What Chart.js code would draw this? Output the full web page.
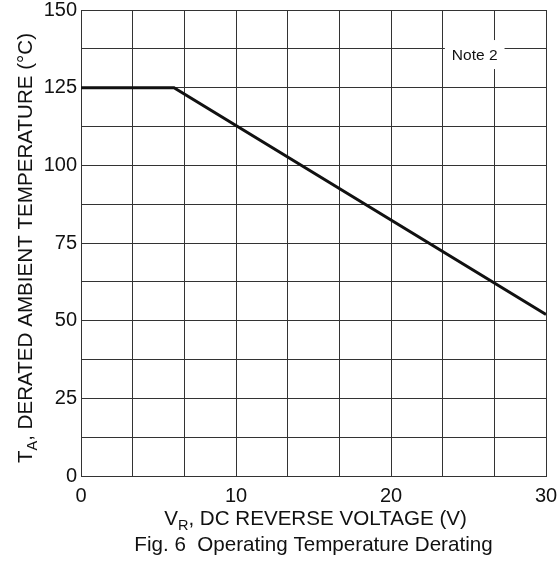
<!DOCTYPE html>
<html>
<head>
<meta charset="utf-8">
<script src="https://cdn.jsdelivr.net/npm/chart.js@4"></script>
<style>
  html, body { margin: 0; padding: 0; background: #fff; }
  #wrap { width: 558px; height: 561px; }
</style>
</head>
<body>
<div id="wrap"><canvas id="chart" width="558" height="561"></canvas></div>
<script>
// derating curve: voltage (V) vs ambient temperature (°C)
const voltage = [0, 6, 30];
const temperature = [125, 125, 52];

// tick labels and grid positions
const xTickLabels = [0, 10, 20, 30];
const yTickLabels = [0, 25, 50, 75, 100, 125, 150];
const xGrid = [0, 10 / 3, 20 / 3, 10, 40 / 3, 50 / 3, 20, 70 / 3, 80 / 3, 30];
const yGrid = [0, 12.5, 25, 37.5, 50, 62.5, 75, 87.5, 100, 112.5, 125, 137.5, 150];

const note = { text: 'Note 2', x: 25.4, y: 135.5 };

const FONT = '"Liberation Sans", Arial, sans-serif';

const isLabel = (v, list) => list.some(t => Math.abs(t - v) < 1e-6);

// draws the axis titles, caption and the note box
const textPlugin = {
    id: 'texts',
    afterDraw(c) {
        const ctx = c.ctx;
        const area = c.chartArea;
        const xs = c.scales.x, ys = c.scales.y;
        ctx.save();

        // note box
        const nx = xs.getPixelForValue(note.x);
        const ny = ys.getPixelForValue(note.y);
        ctx.font = '15.5px ' + FONT;
        const nw = ctx.measureText(note.text).width;
        ctx.fillStyle = '#fff';
        ctx.fillRect(nx - nw / 2 - 7, ny - 15, nw + 14, 29);
        ctx.fillStyle = '#111';
        ctx.textAlign = 'center';
        ctx.textBaseline = 'middle';
        ctx.fillText(note.text, nx, ny + 1);

        // titles with subscript
        const cx = (area.left + area.right) / 2;
        const drawSub = (parts, x, y, big, small) => {
            ctx.textAlign = 'left';
            ctx.textBaseline = 'alphabetic';
            let w = 0;
            parts.forEach(p => {
                ctx.font = (p.sub ? small : big) + 'px ' + FONT;
                w += ctx.measureText(p.t).width;
            });
            let px = x - w / 2;
            parts.forEach(p => {
                ctx.font = (p.sub ? small : big) + 'px ' + FONT;
                ctx.fillText(p.t, px, y + (p.sub ? 5 : 0));
                px += ctx.measureText(p.t).width;
            });
        };
        drawSub([{ t: 'V' }, { t: 'R', sub: true }, { t: ', DC REVERSE VOLTAGE (V)' }], cx + 2, 525, 20.6, 14.5);

        ctx.font = '20.6px ' + FONT;
        ctx.textAlign = 'center';
        ctx.textBaseline = 'alphabetic';
        ctx.fillText('Fig. 6  Operating Temperature Derating', cx, 551);

        // y title rotated
        ctx.translate(32, 248);
        ctx.rotate(-Math.PI / 2);
        drawSub([{ t: 'T' }, { t: 'A', sub: true }, { t: ', DERATED AMBIENT TEMPERATURE (°C)' }], 0, 0, 20.6, 14.5);
        ctx.restore();
    }
};

new Chart(document.getElementById('chart'), {
    type: 'scatter',
    data: {
        datasets: [{
            data: voltage.map((v, i) => ({ x: v, y: temperature[i] })),
            showLine: true,
            borderColor: '#111',
            borderWidth: 3,
            pointRadius: 0,
            tension: 0
        }]
    },
    options: {
        responsive: false,
        animation: false,
        layout: { autoPadding: false, padding: { left: 0, top: 10, right: 12, bottom: 0 } },
        plugins: { legend: { display: false }, tooltip: { enabled: false } },
        scales: {
            x: {
                type: 'linear',
                min: 0,
                max: 30,
                afterBuildTicks: s => { s.ticks = xGrid.map(v => ({ value: v })); },
                afterFit: s => { s.height = 85; s.paddingLeft = 0; s.paddingRight = 0; },
                grid: { color: '#333', lineWidth: 1, drawTicks: false },
                border: { color: '#333', width: 1 },
                ticks: {
                    autoSkip: false,
                    maxRotation: 0,
                    padding: 8,
                    color: '#111',
                    font: { family: FONT, size: 20 },
                    callback: v => isLabel(v, xTickLabels) ? String(Math.round(v)) : ''
                }
            },
            y: {
                type: 'linear',
                min: 0,
                max: 150,
                afterBuildTicks: s => { s.ticks = yGrid.map(v => ({ value: v })); },
                afterFit: s => { s.width = 81; s.paddingTop = 0; s.paddingBottom = 0; },
                grid: { color: '#333', lineWidth: 1, drawTicks: false },
                border: { color: '#333', width: 1 },
                ticks: {
                    autoSkip: false,
                    padding: 4,
                    color: '#111',
                    font: { family: FONT, size: 20 },
                    callback: v => isLabel(v, yTickLabels) ? String(Math.round(v)) : ''
                }
            }
        }
    },
    plugins: [textPlugin]
});
</script>
</body>
</html>
